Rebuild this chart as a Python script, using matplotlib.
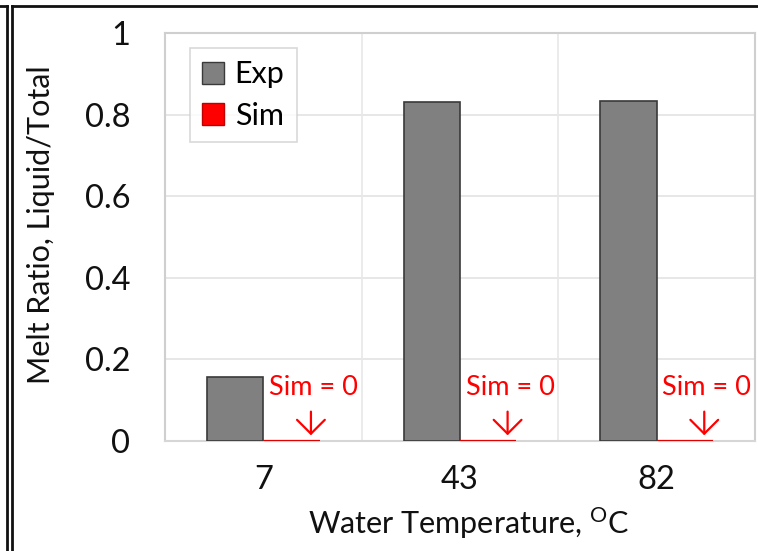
import matplotlib
matplotlib.use("Agg")
import matplotlib.pyplot as plt
from matplotlib.lines import Line2D
from matplotlib.patches import Patch
import numpy as np

plt.rcParams["font.family"] = ["Lato", "DejaVu Sans"]
plt.rcParams["mathtext.fontset"] = "custom"
plt.rcParams["mathtext.rm"] = "Lato"
plt.rcParams["mathtext.default"] = "regular"

temps = ["7", "43", "82"]
exp_ratio = [0.157, 0.831, 0.833]
sim_ratio = [0.0, 0.0, 0.0]
y_ticks = [0, 0.2, 0.4, 0.6, 0.8, 1]
y_ticklabels = ["0", "0.2", "0.4", "0.6", "0.8", "1"]

W, H = 758, 551
fig = plt.figure(figsize=(W / 100, H / 100), dpi=100)
fig.patch.set_facecolor("white")

# plot area in pixel terms
L, R, T, B = 165, 755, 33, 441
ax = fig.add_axes([L / W, 1 - B / H, (R - L) / W, (B - T) / H])

x = np.arange(len(temps))
bw = 0.286
ax.bar(x - bw / 2, exp_ratio, bw, color="#808080", edgecolor="#3a3a3a",
       linewidth=1.2, zorder=3, label="Exp")
ax.bar(x + bw / 2, sim_ratio, bw, color="#ff0000", edgecolor="#e00000",
       linewidth=1.6, zorder=3, label="Sim")

ax.set_xlim(-0.5, len(temps) - 0.5)
ax.set_ylim(0, 1)
ax.set_yticks(y_ticks)
ax.set_yticklabels(y_ticklabels)
ax.set_xticks(x)
ax.set_xticklabels(temps)
ax.tick_params(axis="both", length=0, labelsize=23.5, colors="#111111")
ax.tick_params(axis="y", pad=25)
ax.tick_params(axis="x", pad=17)

# horizontal grid + category dividers
for v in y_ticks[1:-1]:
    ax.axhline(v, color="#e3e3e3", lw=1.2, zorder=1)
for v in x[:-1] + 0.5:
    ax.axvline(v, color="#e8e8e8", lw=1.2, zorder=1)
for s in ax.spines.values():
    s.set_color("#cfcfcf")
    s.set_linewidth(1.5)
ax.spines["bottom"].set_color("#d6d6d6")

# "Sim = 0" notes with down arrows
for i, v in enumerate(sim_ratio):
    ax.text(i + 0.255, v + 0.13, "Sim = 0", color="#ff0000", fontsize=19.5,
            ha="center", va="center", zorder=4)
    ax.annotate("", xy=(i + 0.242, v + 0.014), xytext=(i + 0.242, v + 0.072),
                arrowprops=dict(arrowstyle="->,head_width=1.0,head_length=1.0",
                                color="#ff0000", lw=1.6, shrinkA=0, shrinkB=0),
                zorder=4)

handles = [Patch(facecolor="#808080", edgecolor="#3a3a3a", label="Exp"),
           Patch(facecolor="#ff0000", edgecolor="#c00000", label="Sim")]
leg = ax.legend(handles=handles, loc="upper left", bbox_to_anchor=(0.042, 0.963),
                fontsize=22, frameon=True, fancybox=False, handlelength=0.72,
                handleheight=0.72, handletextpad=0.35, borderpad=0.4,
                labelspacing=0.45, borderaxespad=0)
leg.get_frame().set_edgecolor("#cfcfcf")
leg.get_frame().set_linewidth(1.2)

fig.text(469 / W, 1 - 523 / H, "Water Temperature, $^{O}$C", fontsize=22,
         ha="center", va="center", color="#111111")
fig.text(41 / W, 1 - 225 / H, "Melt Ratio, Liquid/Total", fontsize=22,
         ha="center", va="center", rotation=90, color="#111111")

# frame lines around the panel
def px_line(x0, y0, x1, y1):
    fig.add_artist(Line2D([x0 / W, x1 / W], [1 - y0 / H, 1 - y1 / H],
                          color="#111111", lw=2.0, transform=fig.transFigure))

px_line(0, 6, 7, 6)
px_line(6.5, 6, 6.5, H)
px_line(11.5, 6, W, 6)
px_line(11.5, 6, 11.5, H)

fig.savefig("out.png", dpi=100, facecolor="white")
